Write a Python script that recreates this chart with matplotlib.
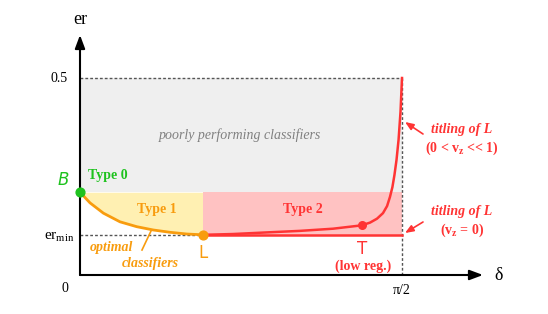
"""
Error rate vs. tilting angle: regions of classifier types.
"""

import numpy as np
import matplotlib.pyplot as plt

plt.rcParams['font.family'] = ['Liberation Serif', 'DejaVu Serif']
plt.rcParams['mathtext.fontset'] = 'custom'
plt.rcParams['mathtext.rm'] = 'Liberation Serif'
plt.rcParams['mathtext.it'] = 'Liberation Serif:italic'
plt.rcParams['mathtext.bf'] = 'Liberation Serif:bold'

# key values
DELTA_MAX = np.pi / 2
ER_MAX = 0.5
ER_B = 0.210          # point B (delta = 0)
ER_MIN = 0.102        # minimal error rate
DELTA_L = 0.60        # point L
T_POINT = (1.374, 0.126)

# optimal classifiers curve (B -> L)
orange_delta = [0.0, 0.049, 0.114, 0.195, 0.277, 0.358, 0.439, 0.521, 0.60]
orange_er = [0.210, 0.183, 0.157, 0.135, 0.1226, 0.1142, 0.1084, 0.104, 0.102]

# tilting curve (L -> T -> top)
red_delta = [0.60, 0.746, 0.907, 1.073, 1.234, 1.374, 1.415, 1.449, 1.478,
             1.498, 1.512, 1.524, 1.534, 1.544, 1.554, 1.5635, 1.5708]
red_er = [0.102, 0.104, 0.108, 0.112, 0.1175, 0.126, 0.133, 0.143, 0.157,
          0.175, 0.198, 0.223, 0.254, 0.292, 0.343, 0.414, 0.5]

ORANGE = '#f89c0e'
RED = '#ff3434'
GREEN = '#1ec21e'
GRAY_TXT = '#808080'

# pixel layout: delta=0 at x=80, pi/2 at x=402; er=0 at y=275, 0.5 at y=78
W, H = 548, 314
X0, X1 = 80, 402
Y0, Y1 = 275, 78
sx = DELTA_MAX / (X1 - X0)
sy = ER_MAX / (Y0 - Y1)


def px(x, y):
    """Pixel position (from top-left) -> data coords."""
    return (x - X0) * sx, (Y0 - y) * sy


fig = plt.figure(figsize=(W / 100, H / 100), dpi=100)
ax = fig.add_axes([0, 0, 1, 1])
ax.set_xlim(px(0, 0)[0], px(W, 0)[0])
ax.set_ylim(px(0, H)[1], px(0, 0)[1])
ax.axis('off')

# regions
ax.fill_between([0, DELTA_MAX], ER_B, ER_MAX, color='#efefef', lw=0, zorder=1)
ax.fill_between(orange_delta, orange_er, ER_B, color='#fff0b2', lw=0, zorder=1)
ax.fill_between([DELTA_L, DELTA_MAX], ER_MIN, ER_B, color='#ffc2c2', lw=0, zorder=1)

# dashed guides
dash = dict(color='#555555', lw=1.0, ls=(0, (2, 1.5)), zorder=2)
ax.plot([0, DELTA_MAX], [ER_MAX, ER_MAX], **dash)
ax.plot([DELTA_MAX, DELTA_MAX], [0, ER_MAX], **dash)
ax.plot([0, DELTA_L], [ER_MIN, ER_MIN], **dash)

# curves
ax.plot(orange_delta, orange_er, color=ORANGE, lw=2, zorder=3)
ax.plot(red_delta, red_er, color=RED, lw=1.8, zorder=3)
ax.plot([DELTA_L, DELTA_MAX], [ER_MIN, ER_MIN], color=RED, lw=1.8, zorder=3)

ax.scatter([0], [ER_B], s=40, color=GREEN, zorder=5)
ax.scatter([DELTA_L], [ER_MIN], s=40, color=ORANGE, zorder=5)
ax.scatter([T_POINT[0]], [T_POINT[1]], s=30, color=RED, zorder=5)

# axes with arrows
arr = dict(arrowstyle='-|>,head_length=0.8,head_width=0.3', color='black', lw=1.5,
           shrinkA=0, shrinkB=0)
ax.annotate('', xy=px(80, 35), xytext=(0, 0), arrowprops=arr, zorder=4)
ax.annotate('', xy=px(483, 275), xytext=(0, 0), arrowprops=arr, zorder=4)

# axis labels and ticks
ax.text(*px(80, 19), 'er', fontsize=13, ha='center', va='center')
ax.text(*px(499, 276), 'δ', fontsize=13, ha='center', va='center')
ax.text(*px(68, 78), '0.5', fontsize=10, ha='right', va='center')
ax.text(*px(74, 237), r'er$_\mathrm{min}$', fontsize=11, ha='right', va='center')
ax.text(*px(65, 289), '0', fontsize=10, ha='center', va='center')
ax.text(*px(402, 291), 'π/2', fontsize=10, ha='center', va='center')

# region labels
ax.text(*px(240, 135), 'poorly performing classifiers', fontsize=10, style='italic',
        color=GRAY_TXT, ha='center', va='center')
ax.text(*px(108, 175), 'Type 0', fontsize=10, weight='bold', color=GREEN,
        ha='center', va='center')
ax.text(*px(157, 210), 'Type 1', fontsize=10, weight='bold', color=ORANGE,
        ha='center', va='center')
ax.text(*px(303, 210), 'Type 2', fontsize=10, weight='bold', color=RED,
        ha='center', va='center')

# handwritten point names
hand = dict(family='DejaVu Sans', ha='center', va='center')
ax.text(*px(63, 180), 'B', fontsize=12, color=GREEN, style='italic', weight='light', **hand)
ax.text(*px(203, 253), 'L', fontsize=12, color=ORANGE, **hand)
ax.text(*px(362, 249), 'T', fontsize=12, color=RED, **hand)

# optimal classifiers
ax.text(*px(111, 248), 'optimal', fontsize=10, style='italic', weight='bold',
        color=ORANGE, ha='center', va='center')
ax.text(*px(150, 264), 'classifiers', fontsize=10, style='italic', weight='bold',
        color=ORANGE, ha='center', va='center')
ax.plot(*zip(px(142, 250), px(151, 231)), color=ORANGE, lw=1.2, zorder=4)

ax.text(*px(363, 266), '(low reg.)', fontsize=10, weight='bold', color=RED,
        ha='center', va='center')

# tilting annotations
small_arr = dict(arrowstyle='-|>,head_length=0.5,head_width=0.2', color=RED, lw=1.2,
                 shrinkA=0, shrinkB=0)
ax.annotate('', xy=px(405, 122), xytext=px(423, 134), arrowprops=small_arr)
ax.annotate('', xy=px(405, 233), xytext=px(423, 222), arrowprops=small_arr)

ax.text(*px(462, 129), 'titling of L', fontsize=10, style='italic', weight='bold',
        color=RED, ha='center', va='center')
ax.text(*px(462, 148), r'(0 < v$_\mathbf{z}$ << 1)', fontsize=10, weight='bold',
        color=RED, ha='center', va='center')
ax.text(*px(462, 211), 'titling of L', fontsize=10, style='italic', weight='bold',
        color=RED, ha='center', va='center')
ax.text(*px(462, 230), r'(v$_\mathbf{z}$ = 0)', fontsize=10, weight='bold',
        color=RED, ha='center', va='center')

fig.savefig('out.png', dpi=100)
